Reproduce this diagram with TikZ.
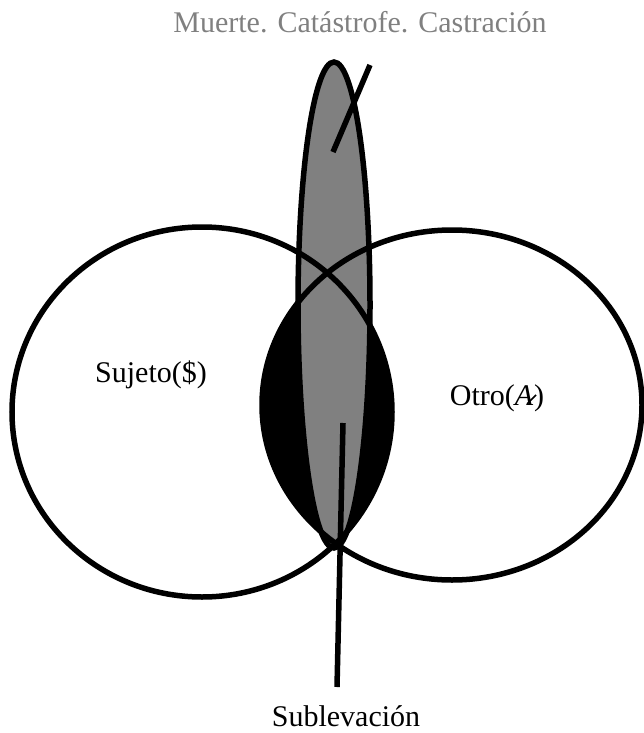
\documentclass[tikz,border=0pt]{standalone}
\usepackage{fontspec}
\setmainfont{Liberation Serif}
\usepackage{xcolor}
\definecolor{labelgrey}{RGB}{128,128,128}
\definecolor{spikegrey}{RGB}{128,128,128}

\begin{document}
\begin{tikzpicture}[x=1pt, y=-1pt,
    ring/.style={line width=5.5pt, draw=black},
    lens/.style={fill=black},
    spike/.style={line width=5.5pt, draw=black, fill=spikegrey},
    pointer/.style={line width=5.5pt, black},
    lbl/.style={font=\fontsize{30}{34}\selectfont, anchor=base, inner sep=0pt}
]
    \useasboundingbox (0,0) rectangle (644,733);

    % shared part of Sujeto and Otro
    \begin{scope}
        \clip (202,412) ellipse [x radius=190, y radius=185];
        \fill[lens] (452,405) ellipse [x radius=190, y radius=175];
    \end{scope}

    \filldraw[spike] (334,305) ellipse [x radius=36, y radius=243];

    \draw[ring] (202,412) ellipse [x radius=190, y radius=185];
    \draw[ring] (452,405) ellipse [x radius=190, y radius=175];

    \coordinate (muerte-tip) at (333,152);
    \coordinate (muerte-end) at (370,65);
    \coordinate (sub-tip) at (343,423);
    \coordinate (sub-end) at (337,687);

    \node[lbl, text=labelgrey] (muerte) at (360,33) {Muerte. Catástrofe. Castración};
    \node[lbl] (sujeto) at (151,382) {Sujeto(\$)};
    \node[lbl] (otro) at (497,405)
        {Otro({\itshape A}\kern-0.22em\raisebox{0.02em}{\rotatebox{45}{\rule{0.42em}{0.05em}}}\kern-0.08em)};
    \node[lbl] (sublev) at (346,726) {Sublevación};

    \draw[pointer] (muerte-tip) -- (muerte-end);
    \draw[pointer] (sub-tip) -- (sub-end);
\end{tikzpicture}
\end{document}
